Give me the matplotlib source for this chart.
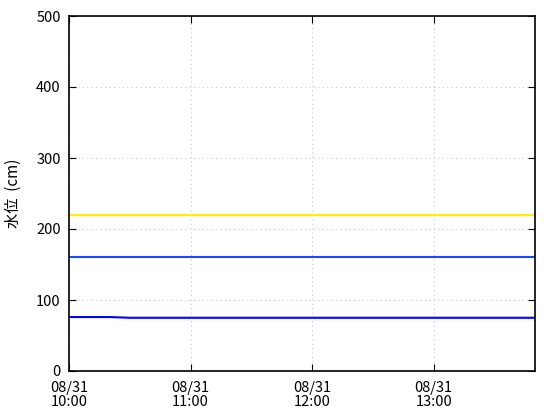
import matplotlib
matplotlib.use('Agg')
import matplotlib.pyplot as plt
import matplotlib.dates as mdates
from datetime import datetime, timedelta

plt.rcParams['font.family'] = ['Noto Sans CJK JP', 'DejaVu Sans']

# 10 minute readings, 10:00 - 13:50
start = datetime(2023, 8, 31, 10, 0)
times = [start + timedelta(minutes=10 * i) for i in range(24)]

level = [76, 76, 76, 75, 75, 75, 75, 75, 75, 75, 75, 75,
         75, 75, 75, 75, 75, 75, 75, 75, 75, 75, 75, 75]
warn_level = [160] * 24
danger_level = [220] * 24

fig = plt.figure(figsize=(5.6, 4.2), dpi=100)
ax = fig.add_axes([69 / 560, 49 / 420, 466 / 560, 355 / 420])

ax.plot(times, danger_level, color='#ffee00', lw=1.5)
ax.plot(times, warn_level, color='#1848ff', lw=1.5)
ax.plot(times, level, color='#0000ff', lw=1.5)

ax.set_ylim(0, 500)
ax.set_xlim(start, start + timedelta(minutes=230))
ax.set_yticks([0, 100, 200, 300, 400, 500])
ax.xaxis.set_major_locator(mdates.HourLocator())
ax.xaxis.set_major_formatter(mdates.DateFormatter('%m/%d\n%H:%M'))
ax.grid(True, color='#c8c8c8', linestyle=(0, (1, 3)), lw=0.8)
ax.tick_params(direction='in', top=True, right=True, length=5, labelsize=10.5)
ax.tick_params(axis='x', pad=7)
ax.tick_params(axis='y', pad=6)
for lbl in ax.get_xticklabels():
    lbl.set_linespacing(1.0)
for s in ax.spines.values():
    s.set_linewidth(1.2)
ax.set_ylabel('水位  (cm)', fontsize=11, labelpad=10)

fig.savefig('out.png', dpi=100)
